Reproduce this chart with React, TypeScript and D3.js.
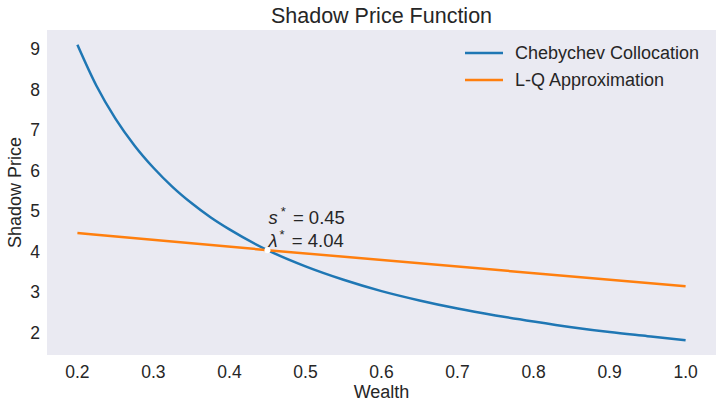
import React from "react";
import * as d3 from "d3";

// wealth grid and values
const wealth = [0.2, 0.225, 0.25, 0.275, 0.3, 0.325, 0.35, 0.375, 0.4, 0.45, 0.5, 0.55, 0.6, 0.65, 0.7, 0.75, 0.8, 0.85, 0.9, 0.95, 1.0];
const chebychev = [9.1, 8.09, 7.28, 6.62, 6.07, 5.6, 5.2, 4.85, 4.55, 4.04, 3.64, 3.31, 3.03, 2.8, 2.6, 2.43, 2.28, 2.14, 2.02, 1.92, 1.82];
const lqWealth = [0.2, 0.45, 1.0];
const lqApprox = [4.46, 4.04, 3.15];
const xTicks = [0.2, 0.3, 0.4, 0.5, 0.6, 0.7, 0.8, 0.9, 1.0];
const yTicks = [2, 3, 4, 5, 6, 7, 8, 9];
const steadyS = 0.45;
const steadyLambda = 4.04;

const W = 723;
const H = 409;
const margin = { top: 30, right: 7, bottom: 54, left: 47 };
const font = "'Liberation Sans', Arial, sans-serif";
const ink = "#262626";

export default function App() {
  const innerW = W - margin.left - margin.right;
  const innerH = H - margin.top - margin.bottom;

  const x = d3.scaleLinear().domain([0.16, 1.04]).range([0, innerW]);
  const y = d3.scaleLinear().domain([1.456, 9.464]).range([innerH, 0]);

  const line = d3
    .line<[number, number]>()
    .x(d => x(d[0]))
    .y(d => y(d[1]))
    .curve(d3.curveMonotoneX);

  const blue = wealth.map((w, i) => [w, chebychev[i]] as [number, number]);
  const orange = lqWealth.map((w, i) => [w, lqApprox[i]] as [number, number]);

  return (
    <svg width={W} height={H} style={{ position: "absolute", left: 0, top: 0, background: "#fff" }}>
      <text x={margin.left + innerW / 2} y={23} textAnchor="middle" fontFamily={font} fontSize={21.5} fill={ink}>
        Shadow Price Function
      </text>
      <g transform={`translate(${margin.left},${margin.top})`}>
        <rect width={innerW} height={innerH} fill="#EAEAF2" />
        {xTicks.map(t => (
          <text key={t} x={x(t)} y={innerH + 23} textAnchor="middle" fontFamily={font} fontSize={17.5} fill={ink}>
            {t.toFixed(1)}
          </text>
        ))}
        {yTicks.map(t => (
          <text key={t} x={-7} y={y(t)} dy="0.35em" textAnchor="end" fontFamily={font} fontSize={17.5} fill={ink}>
            {t}
          </text>
        ))}
        <path d={line(blue) ?? ""} fill="none" stroke="#1f77b4" strokeWidth={2.5} />
        <path d={line(orange) ?? ""} fill="none" stroke="#ff7f0e" strokeWidth={2.5} />
        <circle cx={x(steadyS)} cy={y(steadyLambda)} r={3} fill="#fff" />
        <text x={x(steadyS) + 1} y={y(steadyLambda) - 26} fontFamily={font} fontSize={18.5} fill={ink}>
          <tspan fontStyle="italic">s</tspan>
          <tspan dx={3} dy={-8} fontSize={13}>*</tspan>
          <tspan dx={2} dy={8}> = {steadyS.toFixed(2)}</tspan>
        </text>
        <text x={x(steadyS) + 1} y={y(steadyLambda) - 3} fontFamily={font} fontSize={18.5} fill={ink}>
          <tspan fontStyle="italic">λ</tspan>
          <tspan dx={2} dy={-8} fontSize={13}>*</tspan>
          <tspan dx={2} dy={8}> = {steadyLambda.toFixed(2)}</tspan>
        </text>
        <g transform={`translate(${innerW - 251},${23})`}>
          <line x1={0} x2={38} y1={0} y2={0} stroke="#1f77b4" strokeWidth={2.5} />
          <text x={50} y={0} dy="0.35em" fontFamily={font} fontSize={18} fill={ink}>Chebychev Collocation</text>
          <line x1={0} x2={38} y1={27} y2={27} stroke="#ff7f0e" strokeWidth={2.5} />
          <text x={50} y={27} dy="0.35em" fontFamily={font} fontSize={18} fill={ink}>L-Q Approximation</text>
        </g>
      </g>
      <text x={margin.left + innerW / 2} y={398} textAnchor="middle" fontFamily={font} fontSize={18} fill={ink}>
        Wealth
      </text>
      <text
        transform={`translate(21,${margin.top + innerH / 2}) rotate(-90)`}
        textAnchor="middle"
        fontFamily={font}
        fontSize={18}
        fill={ink}
      >
        Shadow Price
      </text>
    </svg>
  );
}
